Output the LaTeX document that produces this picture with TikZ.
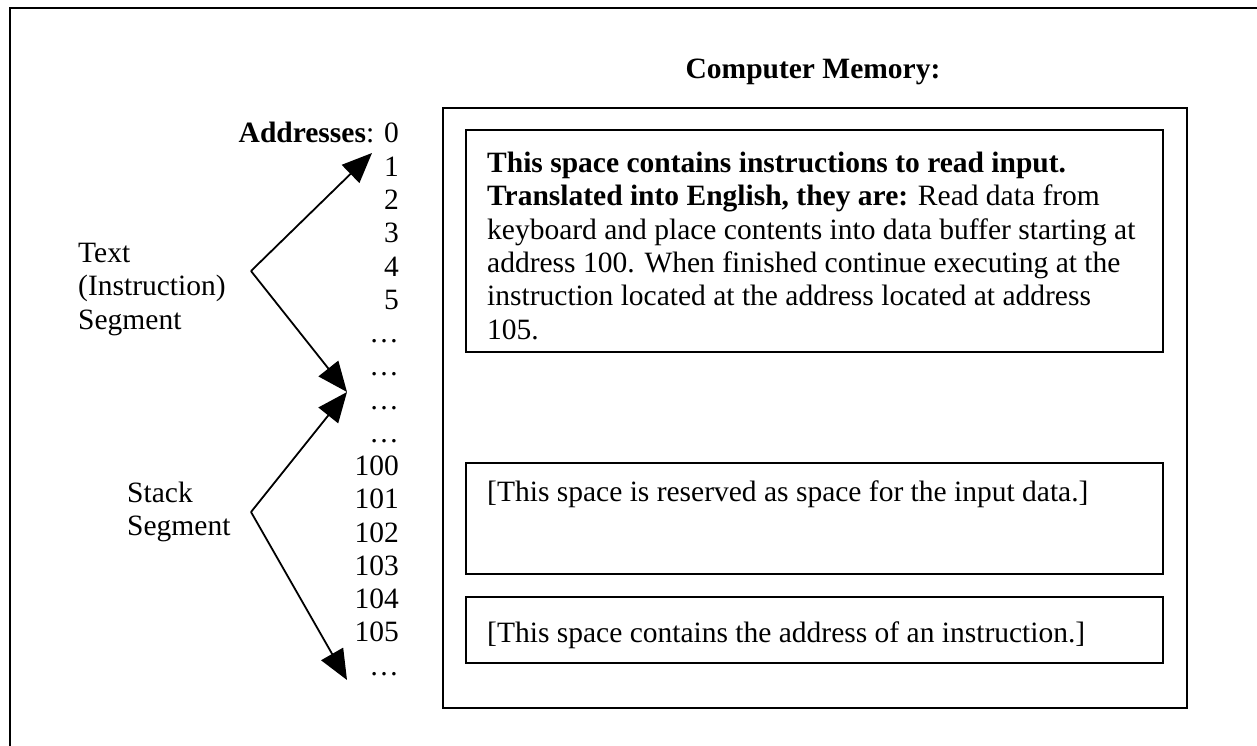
\documentclass[tikz,border=0pt]{standalone}
\usepackage{fontspec}
\setmainfont{Liberation Serif}
\usetikzlibrary{arrows.meta}

\begin{document}
\begin{tikzpicture}[x=1pt,y=-1pt,
    every node/.style={inner sep=0pt, font=\fontsize{29.5}{33.3}\selectfont},
    cell/.style={draw, line width=2pt},
    pointer/.style={line width=1.8pt, -{Triangle[length=30pt,width=25pt]}}]
    \useasboundingbox (0,0) rectangle (1257,746);
    % page frame
    \draw[line width=2.6pt] (10,746) -- (10,8) -- (1257,8);
    \node[font=\fontsize{29.5}{33.3}\selectfont\bfseries] (title) at (813,72) {Computer Memory:};
    % memory
    \draw[line width=2.4pt] (563,108) -- (443,108) -- (443,708) -- (1187,708) -- (1187,108) -- (1060,108);
    \draw[line width=1.4pt] (563,108) -- (1060,108);
    \draw[cell] (466,130) rectangle (1163,352);
    \draw[cell] (466,463) rectangle (1163,574);
    \draw[cell] (466,597) rectangle (1163,663);
    \node[anchor=north west, align=left] (code) at (487,152)
        {\textbf{This space contains instructions to read input.}\\
         \textbf{Translated into English, they are:} Read data from\\
         keyboard and place contents into data buffer starting at\\
         address 100. When finished continue executing at the\\
         instruction located at the address located at address\\
         105.};
    \node[anchor=base west] (buffer) at (487,501) {[This space is reserved as space for the input data.]};
    \node[anchor=base west] (retaddr) at (487,642) {[This space contains the address of an instruction.]};
    % addresses
    \foreach \lab [count=\i from 0] in {{\textbf{Addresses}: 0},1,2,3,4,5,…,…,…,…,100,101,102,103,104,105,…}
        \node[anchor=base east] (a\i) at (399,143+33.25*\i) {\lab};
    % segments
    \node[anchor=north west, align=left] (text) at (78,243) {Text\\(Instruction)\\Segment};
    \node[anchor=north west, align=left] (stack) at (127,482) {Stack\\Segment};
    \coordinate (tv) at (251,271);
    \coordinate (sv) at (251,512);
    \coordinate (ttop) at (372,153);
    \coordinate (gap) at (347,392);
    \coordinate (send) at (347,680);
    \draw[pointer] (tv) -- (ttop);
    \draw[pointer] (tv) -- (gap);
    \draw[pointer] (sv) -- (gap);
    \draw[pointer] (sv) -- (send);
\end{tikzpicture}
\end{document}
